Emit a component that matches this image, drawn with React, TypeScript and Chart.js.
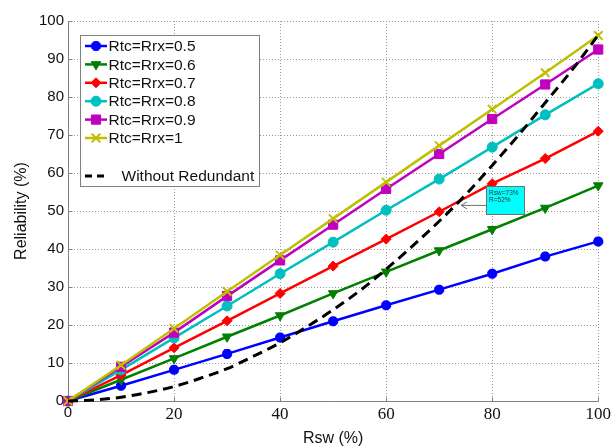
import React, { useEffect, useRef } from 'react';
import { Chart, registerables, PointElement } from 'chart.js';
Chart.register(...registerables);

// ---- data ----
const rsw = [0, 10, 20, 30, 40, 50, 60, 70, 80, 90, 100];
const rel05 = [0, 4, 8.2, 12.4, 16.7, 21, 25.2, 29.3, 33.5, 38, 42];
const rel06 = [0, 5.6, 11.2, 16.9, 22.5, 28.3, 34, 39.6, 45.2, 50.8, 56.7];
const rel07 = [0, 6.8, 14, 21.1, 28.3, 35.5, 42.6, 49.8, 57.2, 63.8, 71];
const rel08 = [0, 8.2, 16.6, 25, 33.5, 41.8, 50.2, 58.4, 66.8, 75.3, 83.5];
const rel09 = [0, 9, 18, 27.6, 37, 46.4, 55.8, 65, 74.2, 83.3, 92.5];
const rel10 = [0, 9.4, 19.1, 28.8, 38.4, 48, 57.6, 67.2, 76.8, 86.4, 96.2];
const rswFine = [0, 5, 10, 15, 20, 25, 30, 35, 40, 45, 50, 55, 60, 65, 70, 75, 80, 85, 90, 95, 100];
const relNoRedundant = [0, 0.25, 1, 2.2, 3.8, 6, 8.5, 11.8, 15.3, 19.5, 24, 29, 34.7, 40.8, 47.3, 54.3, 62, 70, 78.5, 87, 96.3];
const xTicks = [0, 20, 40, 60, 80, 100];
const yTicks = [0, 10, 20, 30, 40, 50, 60, 70, 80, 90, 100];
const seriesLabels = ['Rtc=Rrx=0.5', 'Rtc=Rrx=0.6', 'Rtc=Rrx=0.7', 'Rtc=Rrx=0.8', 'Rtc=Rrx=0.9', 'Rtc=Rrx=1'];
const noRedLabel = 'Without Redundant';
const xTitle = 'Rsw (%)';
const yTitle = 'Reliability (%)';
const annRsw = 73;
const annR = 52;

// ---- styles ----
const seriesData = [rel05, rel06, rel07, rel08, rel09, rel10];
const seriesColors = ['#0000FF', '#008000', '#FF0000', '#00BFBF', '#BF00BF', '#BFBF00'];
const seriesMarkers: any[] = [
  { style: 'star', radius: 5, rot: 0, bw: 3.5 },
  { style: 'triangle', radius: 5.5, rot: 180, bw: 1 },
  { style: 'rectRot', radius: 5, rot: 0, bw: 1 },
  { style: 'circle', radius: 5, rot: 0, bw: 1 },
  { style: 'rect', radius: 6.5, rot: 0, bw: 1 },
  { style: 'crossRot', radius: 6, rot: 0, bw: 2 },
];
const SANS = '"Liberation Sans", Arial, sans-serif';
const SERIF = '"Liberation Serif", "Times New Roman", serif';

function drawMarker(ctx: CanvasRenderingContext2D, i: number, x: number, y: number) {
  const m = seriesMarkers[i];
  const pe: any = new (PointElement as any)({
    x, y,
    options: {
      pointStyle: m.style, radius: m.radius, rotation: m.rot,
      backgroundColor: seriesColors[i], borderColor: seriesColors[i], borderWidth: m.bw,
    },
  });
  pe.draw(ctx, { left: -1e4, top: -1e4, right: 1e4, bottom: 1e4 });
}

const gridPlugin = {
  id: 'mgrid',
  beforeDatasetsDraw(chart: any) {
    const { ctx, chartArea, scales } = chart;
    const { left, right, top, bottom } = chartArea;
    ctx.save();
    ctx.lineWidth = 1;
    ctx.strokeStyle = '#9a9a9a';
    ctx.setLineDash([1, 2]);
    xTicks.forEach((v) => {
      if (v === 0) return;
      const px = Math.round(scales.x.getPixelForValue(v)) + 0.5;
      ctx.beginPath(); ctx.moveTo(px, top); ctx.lineTo(px, bottom); ctx.stroke();
    });
    yTicks.forEach((v) => {
      if (v === 0) return;
      const py = Math.round(scales.y.getPixelForValue(v)) + 0.5;
      ctx.beginPath(); ctx.moveTo(left, py); ctx.lineTo(right, py); ctx.stroke();
    });
    ctx.setLineDash([]);
    ctx.strokeStyle = '#808080';
    const lx = Math.round(left) + 0.5;
    const by = Math.round(bottom) + 0.5;
    ctx.beginPath(); ctx.moveTo(lx, top); ctx.lineTo(lx, by); ctx.lineTo(right, by); ctx.stroke();
    yTicks.forEach((v) => {
      const py = Math.round(scales.y.getPixelForValue(v)) + 0.5;
      ctx.beginPath(); ctx.moveTo(lx, py); ctx.lineTo(lx + 4, py); ctx.stroke();
    });
    xTicks.forEach((v) => {
      const px = Math.round(scales.x.getPixelForValue(v)) + 0.5;
      ctx.beginPath(); ctx.moveTo(px, by); ctx.lineTo(px, by - 4); ctx.stroke();
    });
    ctx.restore();
  },
};

const overlayPlugin = {
  id: 'overlay',
  afterDatasetsDraw(chart: any) {
    const { ctx, scales } = chart;
    ctx.save();
    // annotation
    const px = scales.x.getPixelForValue(annRsw);
    const py = scales.y.getPixelForValue(annR);
    const bx = px + 31, byy = py - 17, bw = 38, bh = 28;
    ctx.strokeStyle = '#707070';
    ctx.lineWidth = 1;
    const tipX = px + 6, tipY = py + 2;
    ctx.beginPath(); ctx.moveTo(bx, tipY); ctx.lineTo(tipX, tipY); ctx.stroke();
    ctx.beginPath(); ctx.moveTo(tipX + 6, tipY - 3.5); ctx.lineTo(tipX, tipY); ctx.lineTo(tipX + 6, tipY + 3.5); ctx.stroke();
    ctx.fillStyle = '#00FFFF';
    ctx.fillRect(bx, byy, bw, bh);
    ctx.strokeRect(Math.round(bx) + 0.5, Math.round(byy) + 0.5, bw, bh);
    ctx.fillStyle = '#333';
    ctx.font = '6.5px ' + SANS;
    ctx.textBaseline = 'middle';
    ctx.textAlign = 'left';
    ctx.fillText(`Rsw=${annRsw}%`, bx + 3, byy + 6.5);
    ctx.fillText(`R=${annR}%`, bx + 3, byy + 14);

    // legend
    const L = 80.5, T = 35.5, W = 179, H = 151;
    ctx.fillStyle = '#ffffff';
    ctx.fillRect(L, T, W, H);
    ctx.strokeStyle = '#808080';
    ctx.strokeRect(L, T, W, H);
    ctx.font = '15.5px ' + SANS;
    ctx.textBaseline = 'middle';
    seriesLabels.forEach((lab, i) => {
      const y = 46 + i * 18.4;
      ctx.strokeStyle = seriesColors[i];
      ctx.lineWidth = 2.5;
      ctx.setLineDash([]);
      ctx.beginPath(); ctx.moveTo(85, y); ctx.lineTo(107, y); ctx.stroke();
      drawMarker(ctx, i, 96, y);
      ctx.fillStyle = '#111';
      ctx.fillText(lab, 108.5, y + 1);
    });
    const yN = 176;
    ctx.strokeStyle = '#000';
    ctx.lineWidth = 3;
    ctx.setLineDash([7, 5]);
    ctx.beginPath(); ctx.moveTo(85, yN); ctx.lineTo(104, yN); ctx.stroke();
    ctx.setLineDash([]);
    ctx.fillStyle = '#111';
    ctx.fillText(noRedLabel, 121.5, yN + 1);
    ctx.restore();
  },
};

export default function App() {
  const ref = useRef<HTMLCanvasElement>(null);
  useEffect(() => {
    if (!ref.current) return;
    const datasets: any[] = seriesData.map((arr, i) => ({
      label: seriesLabels[i],
      data: rsw.map((x, k) => ({ x, y: arr[k] })),
      borderColor: seriesColors[i],
      backgroundColor: seriesColors[i],
      borderWidth: 2.5,
      pointStyle: seriesMarkers[i].style,
      pointRadius: seriesMarkers[i].radius,
      pointRotation: seriesMarkers[i].rot,
      pointBorderWidth: seriesMarkers[i].bw,
      tension: 0,
      clip: false,
      order: 6 - i,
    }));
    datasets.push({
      label: noRedLabel,
      data: rswFine.map((x, k) => ({ x, y: relNoRedundant[k] })),
      borderColor: '#000000',
      backgroundColor: '#000000',
      borderWidth: 3,
      borderDash: [10, 6],
      pointRadius: 0,
      cubicInterpolationMode: 'monotone',
      clip: false,
      order: 0,
    });
    const chart = new Chart(ref.current, {
      type: 'line',
      data: { datasets },
      options: {
        responsive: false,
        animation: false,
        events: [],
        layout: { padding: { top: 21, right: 12, left: 0, bottom: 0 } },
        plugins: { legend: { display: false }, tooltip: { enabled: false } },
        scales: {
          x: {
            type: 'linear', min: 0, max: 100,
            afterBuildTicks: (s: any) => { s.ticks = xTicks.map((v) => ({ value: v })); },
            afterFit: (s: any) => { s.height = 47; },
            grid: { display: false, drawTicks: false },
            border: { display: false },
            ticks: {
              padding: 3,
              color: '#111',
              maxRotation: 0,
              font: (c: any) => (c.index === 0 ? { family: SANS, size: 15 } : { family: SERIF, size: 17 }),
            },
            title: { display: true, text: xTitle, color: '#111', font: { family: SANS, size: 16 }, padding: { top: 0, bottom: 0 } },
          },
          y: {
            type: 'linear', min: 0, max: 100,
            afterBuildTicks: (s: any) => { s.ticks = yTicks.map((v) => ({ value: v })); },
            afterFit: (s: any) => { s.width = 68; },
            grid: { display: false, drawTicks: false },
            border: { display: false },
            ticks: { padding: 4, color: '#111', font: { family: SANS, size: 15 } },
            title: { display: true, text: yTitle, color: '#111', font: { family: SANS, size: 16 }, padding: { top: 12, bottom: 0 } },
          },
        },
      },
      plugins: [gridPlugin, overlayPlugin],
    } as any);
    return () => chart.destroy();
  }, []);
  return (
    <div style={{ position: 'fixed', left: 0, top: 0, width: 614, height: 448, background: '#fff' }}>
      <canvas ref={ref} width={614} height={448} />
    </div>
  );
}
